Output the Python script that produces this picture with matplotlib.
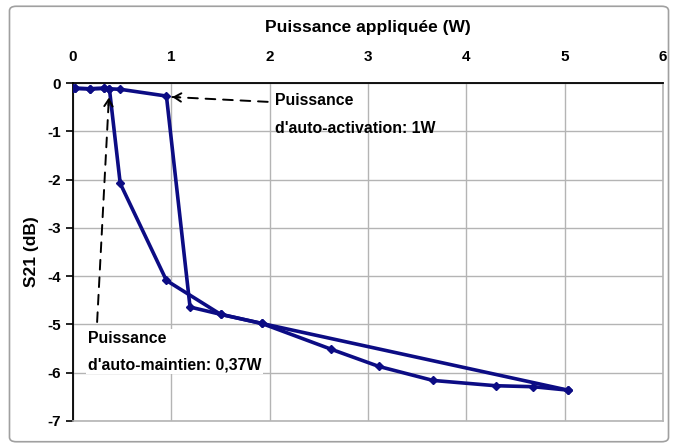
import matplotlib.pyplot as plt
from matplotlib.patches import FancyBboxPatch

plt.rcParams['font.family'] = ['Liberation Sans', 'DejaVu Sans']
plt.rcParams['font.weight'] = 'bold'
plt.rcParams['axes.unicode_minus'] = False

# montée en puissance
p_montee = [0.0, 0.02, 0.17, 0.31, 0.37, 0.48, 0.95, 1.19, 1.50, 1.92,
            2.62, 3.11, 3.66, 4.30, 4.68, 5.03]
s21_montee = [-0.10, -0.11, -0.12, -0.11, -0.12, -0.13, -0.27, -4.64, -4.79, -4.98,
              -5.51, -5.87, -6.16, -6.27, -6.29, -6.36]
# retour à puissance décroissante
p_descente = [5.03, 1.92, 1.50, 0.95, 0.48, 0.37, 0.31, 0.17, 0.02]
s21_descente = [-6.36, -4.98, -4.79, -4.09, -2.08, -0.12, -0.11, -0.12, -0.11]

x_ticks = [0, 1, 2, 3, 4, 5, 6]
y_ticks = [0, -1, -2, -3, -4, -5, -6, -7]

navy = '#0c0c84'
grid_gray = '#b4b4b4'

fig = plt.figure(figsize=(6.78, 4.48), dpi=100)
fig.patches.append(FancyBboxPatch((0.014, 0.014), 0.972, 0.972,
                                  boxstyle='round,pad=0,rounding_size=0.01',
                                  transform=fig.transFigure, fill=False,
                                  edgecolor='#a0a0a0', lw=1.2))
ax = fig.add_axes([0.1077, 0.0603, 0.8702, 0.7544])

ax.plot(p_montee, s21_montee, color=navy, lw=2.6, marker='D', ms=4, zorder=3)
ax.plot(p_descente, s21_descente, color=navy, lw=2.6, marker='D', ms=4, zorder=3)

ax.set_xlim(0, 6)
ax.set_ylim(-7, 0)
ax.set_xticks(x_ticks)
ax.set_yticks(y_ticks)
ax.xaxis.tick_top()
ax.xaxis.set_label_position('top')
ax.tick_params(axis='x', length=0, pad=14)
ax.tick_params(axis='y', length=5, width=1.2, pad=4)
for lab in ax.get_xticklabels() + ax.get_yticklabels():
    lab.set_fontsize(11)
    lab.set_fontweight('bold')
ax.set_xlabel('Puissance appliquée (W)', fontsize=12.5, fontweight='bold', labelpad=13)
ax.set_ylabel('S21 (dB)', fontsize=12.5, fontweight='bold', labelpad=6)

ax.grid(True, color=grid_gray, lw=1.0)
ax.set_axisbelow(True)
for side in ('right', 'bottom'):
    ax.spines[side].set_color(grid_gray)
    ax.spines[side].set_linewidth(1.2)
for side in ('left', 'top'):
    ax.spines[side].set_color('black')
    ax.spines[side].set_linewidth(1.3)


def fleche(tail, head):
    # trait pointillé puis pointe pleine
    ax.annotate('', xy=head, xytext=tail,
                arrowprops=dict(arrowstyle='-', ls=(0, (5, 4)), lw=1.4,
                                color='black', shrinkA=0, shrinkB=0))
    dx = tail[0] - head[0]
    dy = tail[1] - head[1]
    k = 0.07 if abs(dx) > abs(dy) else 0.035
    ax.annotate('', xy=head, xytext=(head[0] + dx * k, head[1] + dy * k),
                arrowprops=dict(arrowstyle='->,head_length=0.5,head_width=0.3',
                                lw=1.4, color='black', shrinkA=0, shrinkB=0))


fleche((1.98, -0.39), (1.01, -0.29))
fleche((0.245, -4.95), (0.365, -0.30))

ax.text(2.05, -0.21, "Puissance\nd'auto-activation: 1W", fontsize=11.4,
        fontweight='bold', va='top', ha='left', linespacing=2.05)
ax.text(0.15, -5.13, "Puissance\nd'auto-maintien: 0,37W", fontsize=11.4,
        fontweight='bold', va='top', ha='left', linespacing=1.95,
        bbox=dict(facecolor='white', edgecolor='none', pad=1))

fig.savefig('out.png', dpi=100)
